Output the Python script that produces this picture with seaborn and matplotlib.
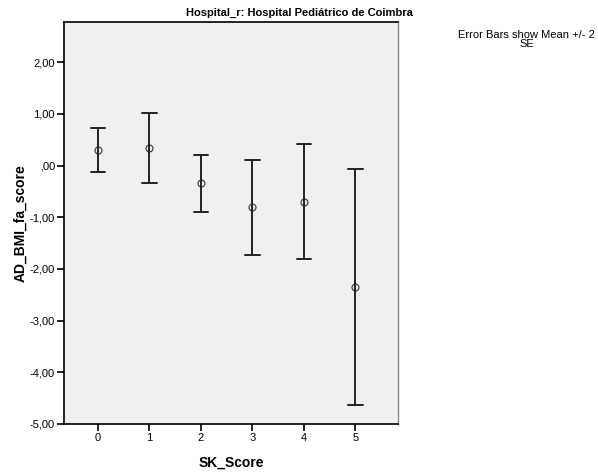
import matplotlib
matplotlib.use("Agg")
import matplotlib.pyplot as plt
import seaborn as sns
import pandas as pd

categories = ["0", "1", "2", "3", "4", "5"]
means = [0.31, 0.34, -0.34, -0.80, -0.70, -2.34]
lower = [-0.12, -0.34, -0.89, -1.72, -1.80, -4.64]
upper = [0.73, 1.01, 0.20, 0.10, 0.41, -0.06]
yticks = [2, 1, 0, -1, -2, -3, -4, -5]
ytick_labels = ["2,00", "1,00", ",00", "-1,00", "-2,00", "-3,00", "-4,00", "-5,00"]

rows = []
for c, m, lo, hi in zip(categories, means, lower, upper):
    for v in (lo, m, hi):
        rows.append({"SK_Score": c, "AD_BMI_fa_score": v})
df = pd.DataFrame(rows)

sns.set_theme(style="ticks")
plt.rcParams["font.family"] = ["Liberation Sans", "DejaVu Sans"]
plt.rcParams["text.color"] = "black"
plt.rcParams["axes.labelcolor"] = "black"

fig = plt.figure(figsize=(5.98, 4.73), dpi=100)
ax = fig.add_axes([0.107, 0.1036, 0.5586, 0.8499])
ax.set_facecolor("#f0f0f0")

sns.pointplot(data=df, x="SK_Score", y="AD_BMI_fa_score", order=categories,
              estimator="median", errorbar=("pi", 100), linestyle="none",
              marker="o", markersize=5, markerfacecolor="none",
              markeredgewidth=0.9, color="#444444", capsize=0.28,
              err_kws={"linewidth": 1.4, "color": "#222222"}, ax=ax)

ax.set_xlim(-0.66, 5.83)
ax.set_ylim(-5, 2.78)
ax.set_yticks(yticks)
ax.set_yticklabels(ytick_labels)
ax.tick_params(axis="both", direction="out", length=5, width=1.2, labelsize=8,
               colors="black", pad=1.5)
for s in ["left", "bottom", "top"]:
    ax.spines[s].set_color("black")
    ax.spines[s].set_linewidth(1.2)
ax.spines["right"].set_color("#888888")
ax.spines["right"].set_linewidth(1.0)

ax.set_xlabel("SK_Score", fontsize=10, fontweight="bold", labelpad=9)
ax.set_ylabel("AD_BMI_fa_score", fontsize=10, fontweight="bold", labelpad=2)

fig.text(0.5, 0.972, "Hospital_r: Hospital Pediátrico de Coimbra", ha="center",
         va="center", fontsize=8, fontweight="bold")
fig.text(0.881, 0.937, "Error Bars show Mean +/- 2\nSE", ha="center", va="top",
         fontsize=8, multialignment="center", linespacing=0.85)

fig.savefig("out.png", dpi=100)
